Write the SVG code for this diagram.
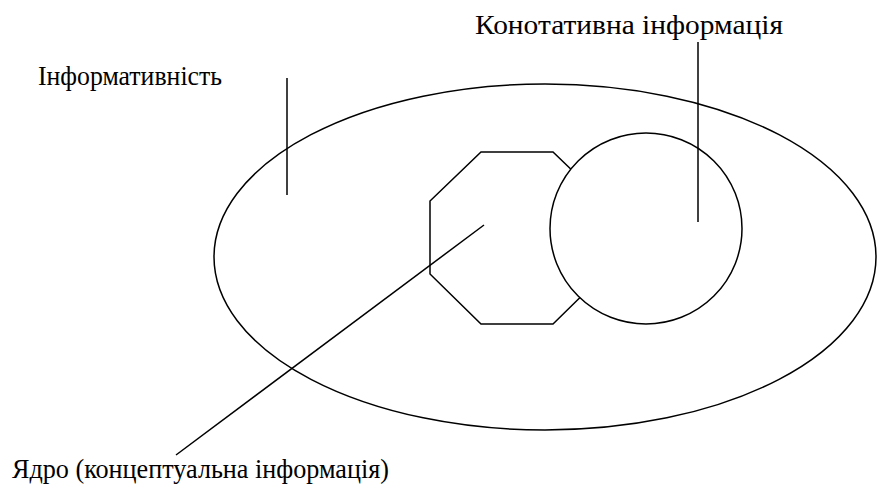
<svg xmlns="http://www.w3.org/2000/svg" width="877" height="485" viewBox="0 0 877 485">
<style>
.s{fill:none;stroke:#000;stroke-width:1.5}
.w{fill:#fff;stroke:#000;stroke-width:1.5}
text{font-family:'Liberation Serif','Times New Roman',serif;font-size:28px;fill:#000}
</style>
<rect width="877" height="485" fill="#fff"/>
<g id="informativnist">
<ellipse class="s" cx="545" cy="257" rx="331" ry="173"/>
<text x="38" y="85" textLength="184" lengthAdjust="spacingAndGlyphs">Інформативність</text>
</g>
<g id="yadro">
<polygon class="s" points="481,152 553,152 604,201 604,274 553,324 481,324 430,274 430,201"/>
<text x="12" y="478" textLength="377" lengthAdjust="spacingAndGlyphs">Ядро (концептуальна інформація)</text>
</g>
<g id="konotatyvna">
<ellipse class="w" cx="646" cy="228.5" rx="96" ry="95.5"/>
<text x="475" y="34" textLength="308" lengthAdjust="spacingAndGlyphs">Конотативна інформація</text>
</g>
<g id="connectors">
<line class="s" x1="287" y1="78" x2="287" y2="195"/>
<line class="s" x1="698" y1="42" x2="698" y2="222"/>
<line class="s" x1="484" y1="225" x2="176" y2="455"/>
</g>
</svg>
